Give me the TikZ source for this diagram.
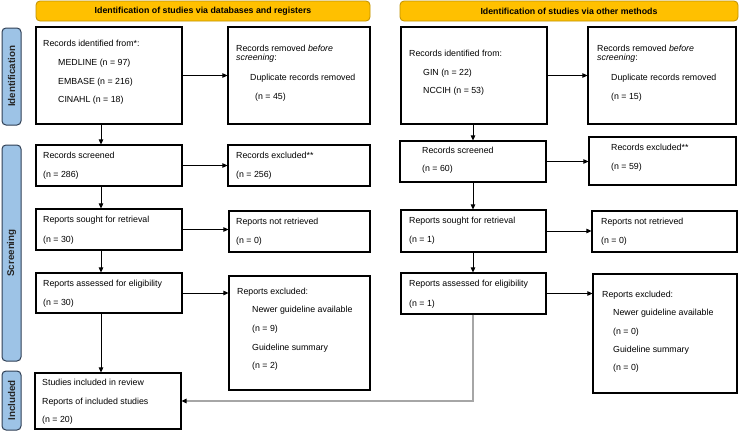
\documentclass[tikz,border=0pt]{standalone}
\usepackage{fontspec}
\setmainfont{Liberation Sans}
\usetikzlibrary{arrows.meta,fit}
\definecolor{bannerfill}{HTML}{FFC000}
\definecolor{bannerborder}{HTML}{BF9000}
\definecolor{sidefill}{HTML}{9DC3E6}
\definecolor{sideborder}{HTML}{2F3F55}
\definecolor{linegray}{HTML}{A6A6A6}
\tikzset{
  box/.style={draw=black, line width=1.1pt, inner sep=0pt, fill=white},
  txt/.style={anchor=base west, inner sep=0pt, font=\fontsize{8.8}{10}\selectfont, text=black},
  arr/.style={-{Triangle[length=5pt,width=4.5pt,color=black]}, line width=0.8pt},
  banner/.style={draw=bannerborder, fill=bannerfill, rounded corners=4pt, line width=0.8pt, inner sep=0pt},
  bantxt/.style={font=\fontsize{8.8}{10}\selectfont\bfseries, inner sep=0pt},
  side/.style={draw=sideborder, fill=sidefill, rounded corners=4pt, line width=1pt, inner sep=0pt},
  sidetxt/.style={rotate=90, inner sep=0pt, font=\fontsize{9.8}{11}\selectfont\bfseries, text=black!85}
}
\begin{document}
\begin{tikzpicture}[x=1pt,y=-1pt]
\useasboundingbox (0,0) rectangle (740,431);
% banners
\node[banner, fit={(36,1) (370,21)}] (banL) {};
\node[bantxt] (banLt) at (banL.center) {Identification of studies via databases and registers};
\node[banner, fit={(400,1) (738,21)}] (banR) {};
\node[bantxt] (banRt) at (banR.center) {Identification of studies via other methods};
% side bars
\node[side, fit={(2,28) (21,125)}] (sideI) {};
\node[sidetxt] (sideIt) at (sideI.center) {Identification};
\node[side, fit={(2,145) (21,361)}] (sideS) {};
\node[sidetxt] (sideSt) at (sideS.center) {Screening};
\node[side, fit={(2,371) (21,430)}] (sideN) {};
\node[sidetxt] (sideNt) at (sideN.center) {Included};
% left boxes
\node[box, fit={(36,27) (182,124)}] (b1) {};
\node[box, fit={(228,27) (370,124)}] (b2) {};
\node[box, fit={(36,145) (182,186)}] (b3) {};
\node[box, fit={(228,145) (370,186)}] (b4) {};
\node[box, fit={(36,209) (182,250)}] (b5) {};
\node[box, fit={(229,211) (370,252)}] (b6) {};
\node[box, fit={(36,273) (182,313)}] (b7) {};
\node[box, fit={(229,276) (370,390)}] (b8) {};
\node[box, fit={(35,373) (181,429)}] (b9) {};
% right boxes
\node[box, fit={(401,27) (547,124)}] (r1) {};
\node[box, fit={(588,27) (736,124)}] (r2) {};
\node[box, fit={(400,141) (546,182)}] (r3) {};
\node[box, fit={(589,137) (736,185)}] (r4) {};
\node[box, fit={(401,210) (546,252)}] (r5) {};
\node[box, fit={(592,211) (737,252)}] (r6) {};
\node[box, fit={(401,273) (546,314)}] (r7) {};
\node[box, fit={(593,274) (737,393)}] (r8) {};
% left texts
\node[txt] (b1a) at (43,46.2) {Records identified from*:};
\node[txt] (b1b) at (58,65.2) {MEDLINE (n = 97)};
\node[txt] (b1c) at (58,84.2) {EMBASE (n = 216)};
\node[txt] (b1d) at (58,102.2) {CINAHL (n = 18)};
\node[txt] (b2a) at (236,51.2) {Records removed \textit{before}};
\node[txt] (b2b) at (236,60.8) {\textit{screening}:};
\node[txt] (b2c) at (250,80.2) {Duplicate records removed};
\node[txt] (b2d) at (255,99.2) {(n = 45)};
\node[txt] (b3a) at (43,158.2) {Records screened};
\node[txt] (b3b) at (43,177.2) {(n = 286)};
\node[txt] (b4a) at (236,158.2) {Records excluded**};
\node[txt] (b4b) at (236,177.2) {(n = 256)};
\node[txt] (b5a) at (43,222.2) {Reports sought for retrieval};
\node[txt] (b5b) at (43,242.2) {(n = 30)};
\node[txt] (b6a) at (236,224.2) {Reports not retrieved};
\node[txt] (b6b) at (236,243.2) {(n = 0)};
\node[txt] (b7a) at (43,286.2) {Reports assessed for eligibility};
\node[txt] (b7b) at (43,305.2) {(n = 30)};
\node[txt] (b8a) at (237,294.2) {Reports excluded:};
\node[txt] (b8b) at (252,312.2) {Newer guideline available};
\node[txt] (b8c) at (252,331.2) {(n = 9)};
\node[txt] (b8d) at (252,350.2) {Guideline summary};
\node[txt] (b8e) at (252,368.2) {(n = 2)};
\node[txt] (b9a) at (42,385.2) {Studies included in review};
\node[txt] (b9b) at (42,404.2) {Reports of included studies};
\node[txt] (b9c) at (42,422.2) {(n = 20)};
% right texts
\node[txt] (r1a) at (409,56.2) {Records identified from:};
\node[txt] (r1b) at (423,75.2) {GIN (n = 22)};
\node[txt] (r1c) at (423,93.2) {NCCIH (n = 53)};
\node[txt] (r2a) at (597,51.2) {Records removed \textit{before}};
\node[txt] (r2b) at (597,60.8) {\textit{screening}:};
\node[txt] (r2c) at (611,80.2) {Duplicate records removed};
\node[txt] (r2d) at (611,99.2) {(n = 15)};
\node[txt] (r3a) at (422,153.2) {Records screened};
\node[txt] (r3b) at (422,171.2) {(n = 60)};
\node[txt] (r4a) at (611,150.2) {Records excluded**};
\node[txt] (r4b) at (611,169.2) {(n = 59)};
\node[txt] (r5a) at (409,223.2) {Reports sought for retrieval};
\node[txt] (r5b) at (409,242.2) {(n = 1)};
\node[txt] (r6a) at (601,224.2) {Reports not retrieved};
\node[txt] (r6b) at (601,243.2) {(n = 0)};
\node[txt] (r7a) at (409,286.2) {Reports assessed for eligibility};
\node[txt] (r7b) at (409,306.2) {(n = 1)};
\node[txt] (r8a) at (602,297.2) {Reports excluded:};
\node[txt] (r8b) at (613,315.2) {Newer guideline available};
\node[txt] (r8c) at (613,334.2) {(n = 0)};
\node[txt] (r8d) at (613,352.2) {Guideline summary};
\node[txt] (r8e) at (613,370.2) {(n = 0)};
% connectors
\coordinate (xL) at (101,0);
\coordinate (xR) at (473,0);
\draw[arr] (xL |- b1.south) -- (xL |- b3.north);
\draw[arr] (xL |- b3.south) -- (xL |- b5.north);
\draw[arr] (xL |- b5.south) -- (xL |- b7.north);
\draw[arr] (xL |- b7.south) -- (xL |- b9.north);
\draw[arr] (b1.east) -- (b2.west |- b1.east);
\draw[arr] (b3.east) -- (b4.west |- b3.east);
\draw[arr] (b5.east) -- (b6.west |- b5.east);
\draw[arr] (b7.east) -- (b8.west |- b7.east);
\draw[arr] (xR |- r1.south) -- (xR |- r3.north);
\draw[arr] (xR |- r3.south) -- (xR |- r5.north);
\draw[arr] (xR |- r5.south) -- (xR |- r7.north);
\draw[arr] (r1.east) -- (r2.west |- r1.east);
\draw[arr] (r3.east) -- (r4.west |- r3.east);
\draw[arr] (r5.east) -- (r6.west |- r5.east);
\draw[arr] (r7.east) -- (r8.west |- r7.east);
\draw[arr, draw=linegray, line width=1.2pt] (xR |- r7.south) |- (b9.east);
\end{tikzpicture}
\end{document}
